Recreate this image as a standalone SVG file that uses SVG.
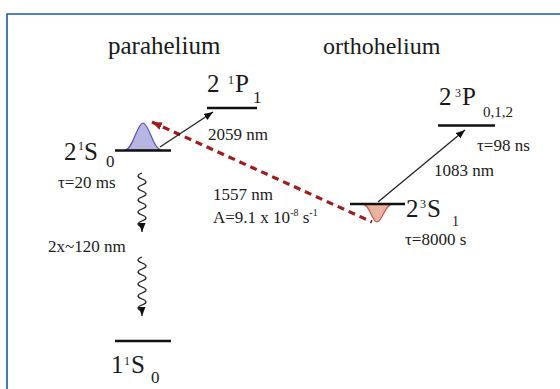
<svg xmlns="http://www.w3.org/2000/svg" width="560" height="389" viewBox="0 0 560 389">
  <style>
    text { font-family: "Liberation Serif", "Times New Roman", "DejaVu Serif", serif; fill: #1a1a1a; }
    .title { font-size: 25px; }
    .big { font-size: 25px; }
    .sup { font-size: 12px; }
    .sub { font-size: 17px; }
    .sub2 { font-size: 15px; }
    .sub3 { font-size: 14px; }
    .lbl { font-size: 17px; }
    .small { font-size: 10px; }
    .level { stroke: #111; stroke-width: 2.6; fill: none; }
    .arrow { stroke: #222; stroke-width: 1.3; fill: none; }
    .wave { stroke: #222; stroke-width: 1.3; fill: none; }
    .dash { stroke: #a01c1c; stroke-width: 3.2; stroke-dasharray: 7 5; fill: none; }
  </style>
  <defs>
    <marker id="ah" markerUnits="userSpaceOnUse" markerWidth="10" markerHeight="8" refX="9" refY="4" orient="auto">
      <path d="M0,0.5 L9,4 L0,7.5 Z" fill="#111"/>
    </marker>
    <marker id="ahr" markerUnits="userSpaceOnUse" markerWidth="12" markerHeight="9" refX="10" refY="4.5" orient="auto-start-reverse">
      <path d="M0,0.5 L10,4.5 L0,8.5 Z" fill="#a01c1c"/>
    </marker>
  </defs>

  <!-- frame -->
  <path d="M7,389 L7,14 L560,14" fill="none" stroke="#1e5aa0" stroke-width="1.6"/>

  <text class="title" x="108" y="54">parahelium</text>
  <text class="title" x="323" y="54" style="font-size:24px">orthohelium</text>

  <g id="connectors">
    <path class="dash" d="M152,122 L372,222" marker-start="url(#ahr)"/>
    <path class="arrow" d="M160,147 L213,112" marker-end="url(#ah)"/>
    <path class="arrow" d="M378,202 L465,130" marker-end="url(#ah)"/>
    <path class="wave" d="M142,173 q-8,3 0,6 t0,6 t0,6 t0,6 t0,6 t0,6 t0,6 t0,6 t0,6 l0,5" marker-end="url(#ah)"/>
    <path class="wave" d="M142,257 q-8,3 0,6 t0,6 t0,6 t0,6 t0,6 t0,6 t0,6 t0,6 t0,6 l0,5" marker-end="url(#ah)"/>
    <text class="lbl" x="208" y="140">2059 nm</text>
    <text class="lbl" x="48" y="252">2x~120 nm</text>
    <text class="lbl" x="213" y="200">1557 nm</text>
    <text class="lbl" x="213" y="223">A=9.1 x 10<tspan class="small" dy="-7">-8</tspan><tspan dy="7"> s</tspan><tspan class="small" dy="-7">-1</tspan></text>
    <text class="lbl" x="434" y="176">1083 nm</text>
  </g>

  <g id="level-21S0">
    <path d="M125,150 C133,150 137,123 143,123 C149,123 153,150 162,150 Z" fill="#b9b5e3" stroke="#5b52b8" stroke-width="1.2"/>
    <line class="level" x1="115" y1="150.5" x2="171" y2="150.5"/>
    <text class="big" x="64" y="160">2</text>
    <text class="sup" x="78" y="150">1</text>
    <text class="big" x="84" y="160">S</text>
    <text class="sub" x="106" y="167">0</text>
    <text class="lbl" x="58" y="188">τ=20 ms</text>
  </g>

  <g id="level-21P1">
    <line class="level" x1="207" y1="108" x2="257" y2="108"/>
    <text class="big" x="207" y="92">2</text>
    <text class="sup" x="228" y="84">1</text>
    <text class="big" x="235" y="92">P</text>
    <text class="sub" x="253" y="103">1</text>
  </g>

  <g id="level-23P">
    <line class="level" x1="438" y1="125.5" x2="495" y2="125.5"/>
    <text class="big" x="439" y="105">2</text>
    <text class="sup" x="455" y="97">3</text>
    <text class="big" x="462" y="105">P</text>
    <text class="sub2" x="483" y="117">0,1,2</text>
    <text class="lbl" x="477" y="151">τ=98 ns</text>
  </g>

  <g id="level-23S1">
    <path d="M362,204 C370,204 372,222 377,222 C382,222 385,204 393,204 Z" fill="#e9b3a2" stroke="#c0574a" stroke-width="1.2"/>
    <line class="level" x1="350" y1="204" x2="405" y2="204"/>
    <text class="big" x="406" y="217">2</text>
    <text class="sup" x="420" y="208">3</text>
    <text class="big" x="427" y="217">S</text>
    <text class="sub3" x="452" y="226">1</text>
    <text class="lbl" x="405" y="245">τ=8000 s</text>
  </g>

  <g id="level-11S0">
    <line class="level" x1="115" y1="341" x2="171" y2="341"/>
    <text class="big" x="111" y="373">1</text>
    <text class="sup" x="124" y="365">1</text>
    <text class="big" x="131" y="373">S</text>
    <text class="sub" x="151" y="383">0</text>
  </g>
</svg>
